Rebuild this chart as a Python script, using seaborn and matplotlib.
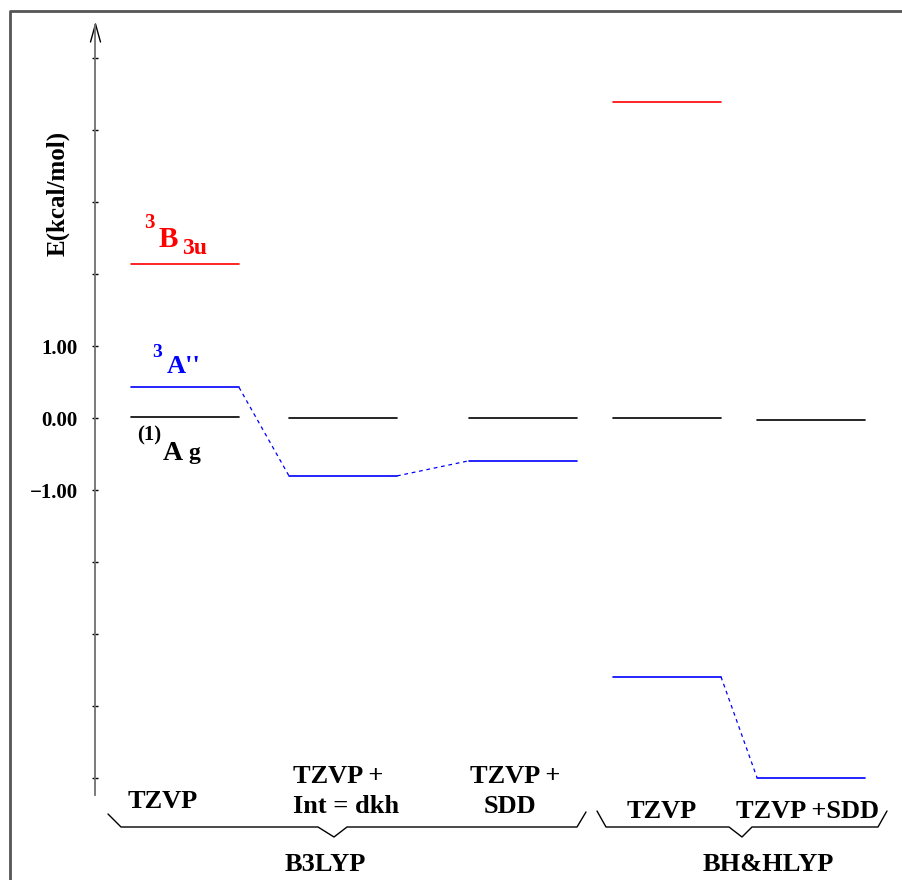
import numpy as np
import pandas as pd
import matplotlib
matplotlib.use("Agg")
import matplotlib.pyplot as plt
import matplotlib.transforms as mtransforms
from matplotlib.ticker import FixedLocator, FuncFormatter
import seaborn as sns

# ---------------- data ----------------
methods = ["TZVP", "TZVP +\nInt = dkh", "TZVP +\nSDD", "TZVP", "TZVP +SDD"]
functionals = ["B3LYP", "BH&HLYP"]
singlet_Ag = [0.02, 0.00, 0.00, 0.00, -0.02]
triplet_A2 = [0.43, -0.80, -0.59, -3.59, -4.99]
triplet_B3u = [2.14, np.nan, np.nan, 4.39, np.nan]
tick_values = [-5, -4, -3, -2, -1, 0, 1, 2, 3, 4, 5]
tick_labels = {1: "1.00", 0: "0.00", -1: "\u22121.00"}
connections = [(0, 1), (1, 2), (3, 4)]

# ---------------- layout ----------------
W, H = 902, 880
col_centers = [185, 343, 523, 667, 811]
half_w = 54
Y0_PIX, PX_PER_UNIT = 418.3, 72.0


def e_of_pix(p):
    return (Y0_PIX - p) / PX_PER_UNIT


sns.set_style("white")
plt.rcParams["font.family"] = ["Liberation Serif", "DejaVu Serif"]
plt.rcParams["font.weight"] = "bold"
plt.rcParams["text.color"] = "black"
plt.rcParams["axes.labelcolor"] = "black"
plt.rcParams["ytick.color"] = "black"
plt.rcParams["ytick.labelcolor"] = "black"

fig = plt.figure(figsize=(W / 100, H / 100), dpi=100)
ax = fig.add_axes([0, 0, 1, 1])
ax.set_xlim(0, W)
ax.set_ylim(e_of_pix(H), e_of_pix(0))
ax.set_facecolor("white")

# pixel transform (origin top-left)
pix = mtransforms.Affine2D().scale(1, -1).translate(0, H)

# ---------- levels via seaborn ----------
rows = []
uid = 0
for state, vals in [("singlet", singlet_Ag), ("A2", triplet_A2), ("B3u", triplet_B3u)]:
    for i, v in enumerate(vals):
        if np.isnan(v):
            continue
        for x in (col_centers[i] - half_w, col_centers[i] + half_w):
            rows.append(dict(x=x, E=v, state=state, uid=uid))
        uid += 1
levels = pd.DataFrame(rows)
sns.lineplot(data=levels, x="x", y="E", hue="state", units="uid", estimator=None,
             palette={"singlet": "black", "A2": "#0000ff", "B3u": "#ff0000"},
             sort=False, legend=False, lw=1.2, ax=ax)

crow = []
for k, (a, b) in enumerate(connections):
    crow.append(dict(x=col_centers[a] + half_w, E=triplet_A2[a], uid=k))
    crow.append(dict(x=col_centers[b] - half_w, E=triplet_A2[b], uid=k))
conn = pd.DataFrame(crow)
sns.lineplot(data=conn, x="x", y="E", units="uid", estimator=None, sort=False,
             color="#0000ff", lw=0.9, linestyle=(0, (3, 3)), legend=False, ax=ax)

# ---------- axis ----------
for s in ["top", "right", "bottom"]:
    ax.spines[s].set_visible(False)
ax.spines["left"].set_position(("data", 95))
ax.spines["left"].set_bounds(e_of_pix(795), e_of_pix(25))
ax.spines["left"].set_color("#707070")
ax.spines["left"].set_linewidth(1.3)
ax.yaxis.set_major_locator(FixedLocator(tick_values))
ax.yaxis.set_major_formatter(FuncFormatter(lambda v, p: tick_labels.get(int(round(v)), "")))
ax.tick_params(axis="y", direction="inout", length=5, width=1.0, color="black",
               labelcolor="black", pad=10, labelsize=15, left=True)
for t in ax.get_yticklabels():
    t.set_fontweight("bold")
ax.set_xticks([])
ax.set_xlabel("")
ax.set_ylabel("")

# arrow head
ax.plot([90.5, 95.5, 100.5], [42, 24, 42], color="black", lw=1.0, transform=pix, clip_on=False)

# frame
ax.plot([10, 10, W], [H, 11, 11], color="#555555", lw=2.0, transform=pix, clip_on=False)

# y label
ax.text(58, 193, "E(kcal/mol)", transform=pix, rotation=90, ha="center", va="center",
        fontsize=18, fontweight="bold", color="black")

# ---------- level labels ----------
ax.text(144, 228, "3", transform=pix, color="#ff0000", fontsize=15, fontweight="bold", va="baseline")
ax.text(159, 247, "B", transform=pix, color="#ff0000", fontsize=21, fontweight="bold", va="baseline")
ax.text(182, 254, "3u", transform=pix, color="#ff0000", fontsize=17, fontweight="bold", va="baseline")

ax.text(152, 357, "3", transform=pix, color="#0000ff", fontsize=14, fontweight="bold", va="baseline")
ax.text(167, 373, "A''", transform=pix, color="#0000ff", fontsize=19, fontweight="bold", va="baseline")

ax.text(137, 440, "(1)", transform=pix, color="black", fontsize=15, fontweight="bold", va="baseline")
ax.text(163, 460, "A", transform=pix, color="black", fontsize=20, fontweight="bold", va="baseline")
ax.text(188, 459, "g", transform=pix, color="black", fontsize=17, fontweight="bold", va="baseline")

# ---------- method labels ----------
xl = dict(transform=pix, fontsize=19, fontweight="bold", va="baseline", color="black")
ax.text(128, 808, methods[0], ha="left", **xl)
l1 = methods[1].split("\n")
ax.text(293, 783, l1[0], ha="left", **xl)
ax.text(293, 813, l1[1], ha="left", **xl)
l2 = methods[2].split("\n")
ax.text(470, 783, l2[0], ha="left", **xl)
ax.text(510, 813, l2[1], ha="center", **xl)
ax.text(627, 818, methods[3], ha="left", **xl)
ax.text(736, 818, methods[4], ha="left", **xl)

ax.text(325, 871, functionals[0], ha="center", **xl)
ax.text(768, 871, functionals[1], ha="center", **xl)

# ---------- group braces ----------
brace1 = [(108, 814), (121, 827), (318, 827), (334, 837), (347, 827), (577, 827), (586, 812)]
brace2 = [(597, 811), (606, 827), (729, 827), (742, 837), (752, 827), (878, 827), (887, 811)]
for br in (brace1, brace2):
    bx, by = zip(*br)
    ax.plot(bx, by, color="black", lw=1.0, transform=pix, clip_on=False)

fig.savefig("out.png", dpi=100, facecolor="white")
